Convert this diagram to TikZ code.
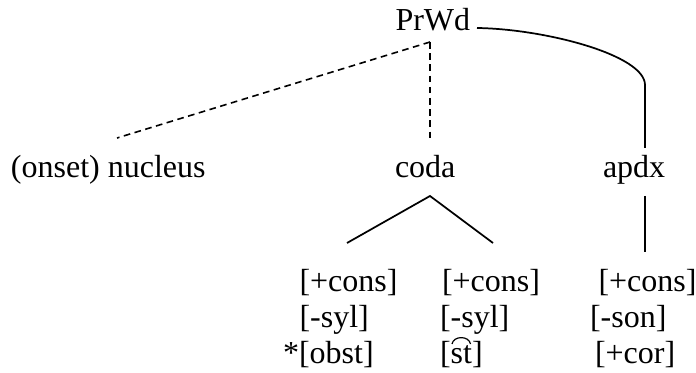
\documentclass[tikz,border=0pt]{standalone}
\usepackage{fontspec}
\setmainfont{Liberation Serif}
\begin{document}
\begin{tikzpicture}[x=0.75pt,y=-0.75pt,
  lbl/.style={anchor=base west,inner sep=0pt,outer sep=0pt,
    font=\fontsize{24}{28}\selectfont},
  assoc/.style={line width=1.3pt},
  weak/.style={line width=1.2pt,dash pattern=on 5pt off 3.4pt},
  tiearc/.style={line width=0.9pt}]
\useasboundingbox (0,0) rectangle (696,373);

% prosodic word and its daughters
\node[lbl] (prwd) at (395.5,31) {PrWd};
\node[lbl] (nucleus) at (11,178) {(onset) nucleus};
\node[lbl] (coda) at (395,178) {coda};
\node[lbl] (apdx) at (603,178) {apdx};

% feature bundles under the coda (left and right) and the appendix
\node[lbl] (l1) at (299.5,292) {[+cons]};
\node[lbl] (l2) at (299.5,328) {[-syl]};
\node[lbl] (l3) at (283,364) {*[obst]};
\node[lbl] (m1) at (442,292) {[+cons]};
\node[lbl] (m2) at (440,328) {[-syl]};
\node[lbl] (m3) at (440,364) {[st]};
\node[lbl] (r1) at (598.5,292) {[+cons]};
\node[lbl] (r2) at (590,328) {[-son]};
\node[lbl] (r3) at (595,364) {[+cor]};

% line end points
\coordinate (prwdFoot) at (430,42);
\coordinate (prwdTail) at (477,28);
\coordinate (nucTop) at (117,138);
\coordinate (codaTop) at (430,142);
\coordinate (apdxTop) at (645,148);
\coordinate (apdxBend) at (645,85);
\coordinate (codaFoot) at (430,196);
\coordinate (legL) at (347,243);
\coordinate (legR) at (493,243);
\coordinate (apdxFoot) at (645,196);
\coordinate (rTop) at (645,252);
\coordinate (tieL) at (452,344);
\coordinate (tieR) at (470.5,344);

% dashed (optional) links
\draw[weak] (prwdFoot) -- (nucTop);
\draw[weak] (prwdFoot) -- (codaTop);

% appendix link from PrWd
\draw[assoc] (prwdTail) .. controls (545,29) and (645,55) .. (apdxBend) -- (apdxTop);

% coda branching and appendix bundle
\draw[assoc] (legL) -- (codaFoot) -- (legR);
\draw[assoc] (apdxFoot) -- (rTop);

% tie over the cluster
\draw[tiearc] (tieL) .. controls (453.5,335.5) and (469,335.5) .. (tieR);
\end{tikzpicture}
\end{document}
